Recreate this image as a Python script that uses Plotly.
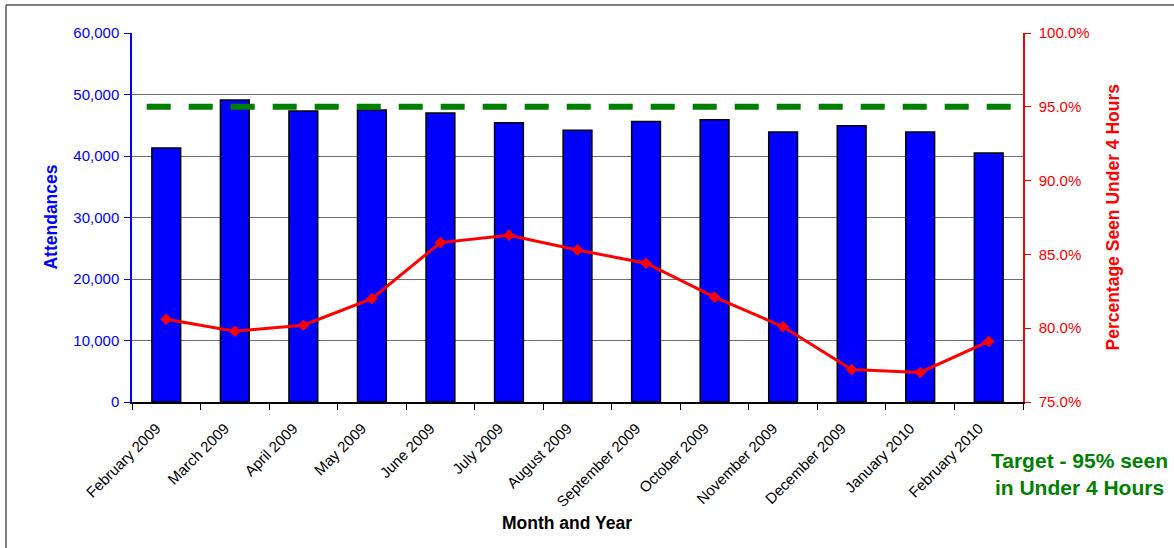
import plotly.graph_objects as go

months = ["February 2009", "March 2009", "April 2009", "May 2009", "June 2009",
          "July 2009", "August 2009", "September 2009", "October 2009",
          "November 2009", "December 2009", "January 2010", "February 2010"]
attendances = [41300, 49100, 47300, 47500, 47000, 45400, 44200, 45600, 45900,
               43900, 44900, 43900, 40500]
pct_under_4h = [80.6, 79.8, 80.2, 82.0, 85.8, 86.3, 85.3, 84.4, 82.1, 80.1,
                77.2, 77.0, 79.1]
target_pct = 95.0

FONT = "Liberation Sans, Arial, sans-serif"

fig = go.Figure()
fig.add_trace(go.Bar(
    x=months, y=attendances, width=0.42,
    marker=dict(color="#0000FF", line=dict(color="black", width=1.5)),
    name="Attendances", yaxis="y"))
fig.add_trace(go.Scatter(
    x=months, y=pct_under_4h, mode="lines+markers",
    line=dict(color="#FF0000", width=3),
    marker=dict(symbol="diamond", size=9, color="#FF0000"),
    name="% seen under 4 hours", yaxis="y2"))

fig.add_shape(type="line", xref="x domain", yref="y2", x0=0.0165, x1=0.9865,
              y0=target_pct, y1=target_pct,
              line=dict(color="#008000", width=6, dash="24px,18px"))

# outer chart border
fig.add_shape(type="rect", xref="paper", yref="paper",
              x0=-0.1414, x1=1.25, y0=-0.6, y1=1.0759,
              line=dict(color="black", width=1), layer="below")

fig.update_layout(
    width=1174, height=548,
    margin=dict(l=132, r=151, t=33, b=146),
    plot_bgcolor="white", paper_bgcolor="white",
    showlegend=False,
    font=dict(family=FONT, size=15, color="black"),
    xaxis=dict(
        type="category", range=[-0.5, len(months) - 0.5],
        tickangle=-45, tickfont=dict(size=15, color="black"),
        showline=True, linecolor="black", linewidth=1.5,
        ticks="outside", tickson="boundaries", ticklen=6, tickcolor="black",
        ticklabelshift=-10, ticklabelstandoff=10,
        showgrid=False, mirror=False),
    yaxis=dict(
        range=[0, 60000], dtick=10000, tickformat=",d",
        tickfont=dict(size=15, color="#0000FF"),
        showline=True, linecolor="#0000FF", linewidth=1.5,
        ticks="outside", ticklen=6, tickcolor="#0000FF", ticklabelstandoff=2,
        showgrid=True, gridcolor="#707070", gridwidth=1, zeroline=False),
    yaxis2=dict(
        range=[75, 100], dtick=5, overlaying="y", side="right",
        ticksuffix="%", tickformat=".1f",
        tickfont=dict(size=15, color="#FF0000"),
        showline=True, linecolor="#FF0000", linewidth=1.5,
        ticks="outside", ticklen=6, tickcolor="#FF0000", ticklabelstandoff=5,
        showgrid=False, zeroline=False),
    annotations=[
        dict(text="<b>Attendances</b>", xref="paper", yref="paper",
             x=-0.092, y=0.5, xanchor="center", yanchor="middle",
             textangle=-90, showarrow=False,
             font=dict(size=17.5, color="#0000FF", family=FONT)),
        dict(text="<b>Percentage Seen Under 4 Hours</b>", xref="paper", yref="paper",
             x=1.0999, y=0.5, xanchor="center", yanchor="middle",
             textangle=-90, showarrow=False,
             font=dict(size=17.5, color="#FF0000", family=FONT)),
        dict(text="<b>Month and Year</b>", xref="paper", yref="paper",
             x=0.488, y=-0.328, xanchor="center", yanchor="middle", showarrow=False,
             font=dict(size=17.5, color="black", family=FONT)),
        dict(text="<b>Target - 95% seen<br>in Under 4 Hours</b>", xref="paper", yref="paper",
             x=1.063, y=-0.195, xanchor="center", yanchor="middle",
             showarrow=False, align="center",
             font=dict(size=21, color="#008000", family=FONT)),
    ],
)

fig.write_html("out.html", config={"displayModeBar": False},
               post_script="document.body.style.margin='0';")
